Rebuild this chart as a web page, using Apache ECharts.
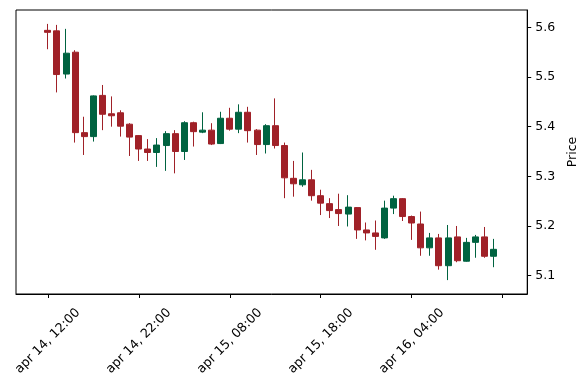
<!DOCTYPE html>
<html>
<head>
<meta charset="utf-8">
<script src="https://cdn.jsdelivr.net/npm/echarts@6/dist/echarts.min.js"></script>
<style>
html,body{margin:0;padding:0;background:#fff;}
#chart{width:587px;height:390px;}
</style>
</head>
<body>
<div id="chart"></div>
<script>
const opens  = [5.594,5.593,5.506,5.550,5.388,5.380,5.463,5.426,5.428,5.405,
                5.382,5.355,5.348,5.362,5.386,5.350,5.408,5.389,5.393,5.366,
                5.417,5.395,5.429,5.393,5.364,5.402,5.362,5.296,5.283,5.293,
                5.261,5.245,5.233,5.224,5.237,5.192,5.186,5.176,5.236,5.255,
                5.219,5.204,5.156,5.176,5.120,5.178,5.129,5.167,5.178,5.139];
const closes = [5.590,5.505,5.548,5.388,5.380,5.462,5.425,5.422,5.401,5.379,
                5.355,5.348,5.363,5.386,5.350,5.408,5.390,5.393,5.365,5.417,
                5.395,5.429,5.392,5.364,5.402,5.362,5.297,5.285,5.293,5.261,
                5.246,5.231,5.225,5.238,5.192,5.186,5.179,5.236,5.255,5.219,
                5.206,5.156,5.176,5.120,5.176,5.130,5.167,5.178,5.139,5.153];
const lows   = [5.556,5.469,5.497,5.368,5.343,5.370,5.393,5.400,5.380,5.341,
                5.331,5.331,5.319,5.311,5.306,5.333,5.360,5.387,5.363,5.365,
                5.392,5.387,5.368,5.343,5.346,5.356,5.256,5.259,5.279,5.251,
                5.222,5.216,5.200,5.199,5.174,5.171,5.152,5.174,5.224,5.210,
                5.172,5.140,5.140,5.112,5.091,5.127,5.128,5.136,5.136,5.117];
const highs  = [5.607,5.605,5.597,5.554,5.420,5.463,5.484,5.461,5.433,5.407,
                5.383,5.375,5.377,5.391,5.393,5.411,5.410,5.429,5.407,5.430,
                5.438,5.445,5.440,5.395,5.405,5.457,5.368,5.331,5.348,5.313,
                5.273,5.256,5.265,5.262,5.238,5.207,5.211,5.251,5.261,5.256,
                5.221,5.229,5.186,5.184,5.202,5.200,5.176,5.182,5.198,5.174];
const xTickIdx = [0,10,20,30,40,50];
const xLabelIdx = [0,10,20,30,40];
const xLabels = ['apr 14, 12:00','apr 14, 22:00','apr 15, 08:00','apr 15, 18:00','apr 16, 04:00'];
const yTicks = [5.1,5.2,5.3,5.4,5.5,5.6];

const data = opens.map((o,i)=>[i,o,closes[i],lows[i],highs[i]]);
const chart = echarts.init(document.getElementById('chart'),null,{renderer:'canvas'});
const font = 'DejaVu Sans';
chart.setOption({
  animation:false,
  backgroundColor:'#fff',
  grid:{left:16,right:58,top:10,bottom:96,show:true,borderColor:'#000',borderWidth:1,backgroundColor:'transparent'},
  xAxis:{
    type:'value',min:-3.5,max:52.7,
    axisLine:{show:true,onZero:false,lineStyle:{color:'#000',width:1}},
    axisTick:{show:true,length:4,inside:false,lineStyle:{color:'#000'},customValues:xTickIdx},
    axisLabel:{show:true,rotate:45,align:'center',verticalAlign:'middle',margin:47,
      color:'#000',fontFamily:font,fontSize:12.7,customValues:xLabelIdx,
      formatter:function(v){const k=xLabelIdx.indexOf(Math.round(v));return k>=0?xLabels[k]:'';}},
    splitLine:{show:false}
  },
  yAxis:{
    type:'value',position:'right',min:5.063,max:5.635,scale:true,
    name:'Price',nameLocation:'middle',nameRotate:90,nameGap:35,
    nameTextStyle:{color:'#000',fontFamily:font,fontSize:12.5},
    axisLine:{show:true,onZero:false,lineStyle:{color:'#000',width:1}},
    axisTick:{show:true,length:4,inside:false,lineStyle:{color:'#000'},customValues:yTicks},
    axisLabel:{show:true,margin:8,color:'#000',fontFamily:font,fontSize:12.5,customValues:yTicks,
      formatter:function(v){return v.toFixed(1);}},
    splitLine:{show:false}
  },
  series:[{
    type:'candlestick',
    data:data,
    encode:{x:0,y:[1,2,3,4]},
    barWidth:6.5,
    itemStyle:{color:'#006340',color0:'#a02128',borderColor:'#006340',borderColor0:'#a02128',borderWidth:1}
  }]
});
</script>
</body>
</html>
